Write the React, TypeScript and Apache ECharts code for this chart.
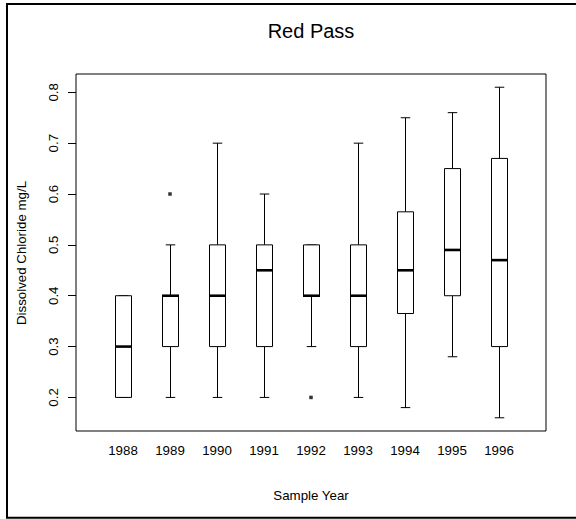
import React, { useEffect, useRef } from "react";
import * as echarts from "echarts";

// Annual dissolved chloride summaries (mg/L) for Red Pass
const years = ["1988", "1989", "1990", "1991", "1992", "1993", "1994", "1995", "1996"];
const lowerWhisker = [0.2, 0.2, 0.2, 0.2, 0.3, 0.2, 0.18, 0.28, 0.16];
const lowerQuartile = [0.2, 0.3, 0.3, 0.3, 0.4, 0.3, 0.365, 0.4, 0.3];
const medians = [0.3, 0.4, 0.4, 0.45, 0.4, 0.4, 0.45, 0.49, 0.47];
const upperQuartile = [0.4, 0.4, 0.5, 0.5, 0.5, 0.5, 0.565, 0.65, 0.67];
const upperWhisker = [0.4, 0.5, 0.7, 0.6, 0.5, 0.7, 0.75, 0.76, 0.81];

const outlierYears = ["1989", "1992"];
const outlierValues = [0.6, 0.2];

const yTicks = [0.2, 0.3, 0.4, 0.5, 0.6, 0.7, 0.8];

const FONT = "'Liberation Sans', Arial, Helvetica, sans-serif";
const BOX_HALF = 8;
const CAP_HALF = 4.75;

export default function App() {
  const ref = useRef<HTMLDivElement>(null);

  useEffect(() => {
    if (!ref.current) return;
    const chart = echarts.init(ref.current, null, { renderer: "svg" });

    const boxData = years.map((_, i) => [
      i + 1,
      lowerWhisker[i],
      lowerQuartile[i],
      medians[i],
      upperQuartile[i],
      upperWhisker[i],
    ]);
    const outlierData = outlierYears.map((y, i) => [years.indexOf(y) + 1, outlierValues[i]]);

    const crisp = (v: number) => Math.round(v - 0.5) + 0.5;

    const renderBox = (_params: any, api: any) => {
      const pos = api.value(0);
      const x = crisp(api.coord([pos, 0])[0]);
      const yMin = api.coord([pos, api.value(1)])[1];
      const yQ1 = api.coord([pos, api.value(2)])[1];
      const yMed = api.coord([pos, api.value(3)])[1];
      const yQ3 = api.coord([pos, api.value(4)])[1];
      const yMax = api.coord([pos, api.value(5)])[1];
      const stroke = { stroke: "#000", lineWidth: 1, fill: null };
      return {
        type: "group",
        children: [
          { type: "line", shape: { x1: x, y1: yMin, x2: x, y2: yQ1 }, style: stroke },
          { type: "line", shape: { x1: x, y1: yQ3, x2: x, y2: yMax }, style: stroke },
          { type: "line", shape: { x1: x - CAP_HALF, y1: yMin, x2: x + CAP_HALF, y2: yMin }, style: stroke },
          { type: "line", shape: { x1: x - CAP_HALF, y1: yMax, x2: x + CAP_HALF, y2: yMax }, style: stroke },
          {
            type: "rect",
            shape: { x: x - BOX_HALF, y: yQ3, width: BOX_HALF * 2, height: yQ1 - yQ3 },
            style: { stroke: "#000", lineWidth: 1, fill: "#fff" },
          },
          {
            type: "line",
            shape: { x1: x - BOX_HALF - 0.5, y1: yMed, x2: x + BOX_HALF + 0.5, y2: yMed },
            style: { stroke: "#000", lineWidth: 2.6 },
          },
        ],
      };
    };

    chart.setOption({
      animation: false,
      backgroundColor: "#fff",
      textStyle: { fontFamily: FONT, color: "#000" },
      grid: {
        left: 76,
        right: 30,
        top: 74,
        bottom: 88,
        show: true,
        borderColor: "#000",
        borderWidth: 1,
        backgroundColor: "transparent",
      },
      xAxis: {
        type: "value",
        min: 0,
        max: 10,
        interval: 1,
        axisLine: { show: false },
        axisTick: { show: false },
        splitLine: { show: false },
        axisLabel: {
          margin: 13,
          fontSize: 13.3,
          color: "#000",
          fontFamily: FONT,
          formatter: (v: number) => (v >= 1 && v <= years.length ? years[v - 1] : ""),
        },
      },
      yAxis: {
        type: "value",
        min: 0.134,
        max: 0.836,
        axisLine: { show: false },
        splitLine: { show: false },
        axisTick: {
          show: true,
          length: 8,
          customValues: yTicks,
          lineStyle: { color: "#000", width: 1 },
        },
        axisLabel: {
          customValues: yTicks,
          rotate: 90,
          margin: 16,
          fontSize: 13.3,
          color: "#000",
          fontFamily: FONT,
          formatter: (v: number) => v.toFixed(1),
        },
      },
      series: [
        {
          type: "custom",
          renderItem: renderBox,
          data: boxData,
          encode: { x: 0, y: [1, 2, 3, 4, 5] },
          z: 2,
        },
        {
          type: "scatter",
          data: outlierData,
          symbol: "rect",
          symbolSize: 3.5,
          itemStyle: { color: "#000" },
          z: 3,
        },
      ],
      graphic: [
        {
          type: "rect",
          shape: { x: 7, y: 4, width: 620, height: 513.8 },
          style: { stroke: "#000", lineWidth: 2, fill: null },
          silent: true,
        },
        {
          type: "text",
          x: 311,
          y: 31,
          style: {
            text: "Red Pass",
            font: `20px ${FONT}`,
            fill: "#000",
            textAlign: "center",
            textVerticalAlign: "middle",
          },
        },
        {
          type: "text",
          x: 311,
          y: 495,
          style: {
            text: "Sample Year",
            font: `13.3px ${FONT}`,
            fill: "#000",
            textAlign: "center",
            textVerticalAlign: "middle",
          },
        },
        {
          type: "text",
          x: 21,
          y: 253,
          rotation: Math.PI / 2,
          style: {
            text: "Dissolved Chloride mg/L",
            font: `13.3px ${FONT}`,
            fill: "#000",
            textAlign: "center",
            textVerticalAlign: "middle",
          },
        },
      ],
    });

    return () => chart.dispose();
  }, []);

  return (
    <div
      ref={ref}
      style={{ position: "absolute", left: 0, top: 0, width: 576, height: 519 }}
    />
  );
}
